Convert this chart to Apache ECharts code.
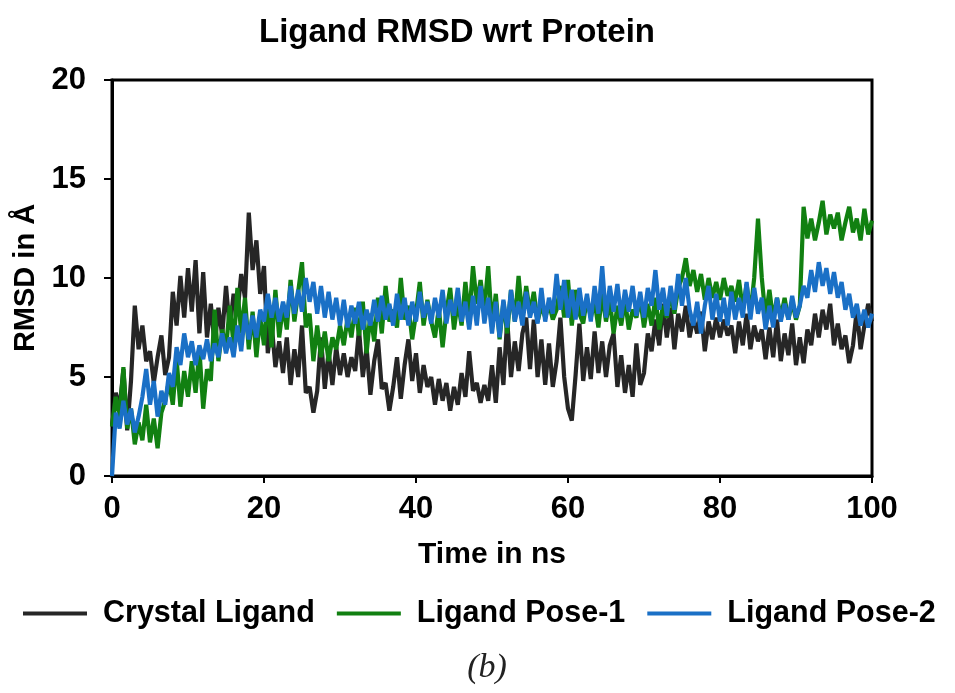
<!DOCTYPE html>
<html>
<head>
<meta charset="utf-8">
<script src="https://cdn.jsdelivr.net/npm/echarts@6/dist/echarts.min.js"></script>
<style>
  html, body { margin: 0; padding: 0; background: #fff; }
  #chart { width: 955px; height: 693px; }
</style>
</head>
<body>
<div id="chart"></div>
<script>
// sampled every 0.5 ns, 0 .. 100
const timeStep = 0.5;

const crystalLigand = [
  2.5, 4.2, 3.4, 5.4, 2.3, 4.8, 8.6, 6.4, 7.6, 5.8,
  6.3, 4.7, 6.0, 7.1, 5.1, 6.0, 9.3, 7.6, 10.1, 8.0,
  10.5, 8.3, 10.9, 7.2, 10.3, 7.0, 8.7, 6.6, 8.5, 7.1,
  9.6, 7.4, 9.2, 8.2, 10.2, 9.0, 13.3, 10.4, 11.9, 9.2,
  10.6, 6.2, 7.7, 5.5, 6.8, 5.2, 7.0, 4.6, 6.4, 5.0,
  7.6, 4.2, 4.5, 3.2, 4.3, 7.0, 4.4, 6.3, 4.6, 6.5,
  5.1, 6.2, 5.0, 6.0, 5.3, 7.4, 5.0, 6.5, 4.1, 5.8,
  6.9, 4.4, 4.7, 3.3, 4.5, 6.0, 3.9, 5.6, 6.9, 4.8,
  6.2, 4.2, 5.6, 4.5, 5.0, 3.6, 4.9, 3.8, 4.7, 3.3,
  4.5, 3.6, 5.2, 4.0, 6.3, 4.3, 4.7, 3.7, 4.6, 3.8,
  5.6, 3.7, 6.5, 4.6, 7.9, 5.0, 6.8, 5.3, 7.2, 8.0,
  5.4, 7.9, 5.0, 6.9, 4.6, 6.7, 4.5, 5.8, 8.0, 5.0,
  3.4, 2.8, 5.1, 7.7, 4.8, 6.5, 4.9, 7.3, 5.2, 6.8,
  5.0, 6.6, 7.2, 4.5, 6.1, 4.2, 5.6, 4.0, 6.7, 4.6,
  5.2, 7.2, 6.3, 7.9, 6.6, 8.7, 7.0, 8.5, 6.4, 8.2,
  7.3, 8.6, 7.0, 8.0, 7.2, 8.3, 6.3, 7.8, 6.9, 8.0,
  7.0, 7.9, 7.1, 7.6, 6.2, 7.8, 6.6, 8.2, 6.4, 7.6,
  6.8, 7.4, 5.9, 7.5, 6.0, 7.9, 5.8, 7.2, 6.1, 7.7,
  5.6, 7.0, 5.7, 7.4, 6.6, 8.2, 7.0, 8.4, 7.4, 8.7,
  6.6, 7.7, 6.4, 7.1, 5.7, 6.6, 8.4, 6.4, 7.6, 8.7,
  7.8
];

const ligandPose1 = [
  2.5, 4.0, 3.0, 5.5, 2.4, 3.4, 1.6, 2.7, 1.8, 3.6,
  1.7, 2.9, 1.4, 3.2, 3.8, 4.8, 3.6, 5.9, 3.5, 5.3,
  4.0, 5.8, 4.2, 6.4, 3.4, 5.4, 4.8, 8.4, 5.8, 7.4,
  6.4, 8.6, 6.6, 9.5, 7.2, 9.0, 6.4, 8.3, 6.0, 8.1,
  6.6, 9.0, 6.5, 9.4, 7.0, 8.6, 7.4, 9.9, 7.8, 9.3,
  10.8, 7.5, 8.2, 5.8, 7.6, 6.0, 7.3, 5.8, 7.0, 6.4,
  7.6, 6.6, 8.0, 7.0, 8.5, 7.1, 8.8, 6.2, 8.2, 6.8,
  9.0, 7.2, 9.6, 7.8, 8.4, 7.5, 10.0, 7.9, 8.6, 6.9,
  8.2, 9.8, 7.6, 8.9, 7.8, 7.0, 8.5, 6.5, 8.3, 9.5,
  7.4, 8.8, 7.6, 9.8, 8.0, 10.6, 8.7, 9.9, 8.4, 10.6,
  7.6, 9.2, 6.9, 8.8, 7.2, 9.4, 7.8, 10.1, 8.0, 9.6,
  8.2, 9.3, 7.8, 8.6, 8.0, 8.7, 7.9, 8.4, 9.6, 8.0,
  9.9, 7.6, 9.4, 8.2, 7.7, 9.0, 8.0, 8.8, 7.5, 9.2,
  7.8, 8.9, 7.2, 8.6, 7.6, 8.9, 7.4, 8.4, 8.0, 9.0,
  7.5, 8.7, 7.6, 9.0, 7.4, 8.6, 8.0, 9.2, 8.2, 9.5,
  10.0, 11.0, 9.6, 10.4, 9.3, 10.2, 8.9, 10.0, 9.0, 9.8,
  8.9, 10.0, 9.1, 9.6, 8.8, 9.9, 8.4, 9.7, 8.2, 10.0,
  13.0, 10.0, 8.0, 9.4, 7.9, 9.0, 8.0, 9.0, 7.9, 8.8,
  7.9, 8.6, 13.6, 12.0, 13.0, 11.9, 12.8, 13.9, 12.2, 13.2,
  12.5, 13.3, 11.9, 12.8, 13.6, 12.3, 13.0, 11.9, 13.5, 12.2,
  12.9
];

const ligandPose2 = [
  0, 3.2, 2.4, 3.8, 2.6, 3.4, 2.2, 3.0, 4.0, 5.4,
  3.6, 4.8, 3.0, 4.3, 3.6, 5.2, 4.5, 6.5, 5.6, 7.2,
  6.0, 6.8, 5.6, 6.6, 5.9, 6.9, 5.8, 6.7, 6.0, 7.2,
  6.2, 7.0, 6.0, 7.6, 6.3, 8.2, 6.9, 8.1, 7.0, 8.4,
  7.8, 9.2, 8.0, 9.0, 7.8, 8.8, 8.0, 9.6, 8.2, 9.4,
  8.3, 10.0, 8.8, 9.8, 8.2, 9.6, 8.0, 9.3, 7.9, 9.0,
  7.6, 8.9, 7.5, 8.6, 7.7, 8.8, 7.4, 8.4, 7.6, 8.9,
  7.8, 9.1, 7.9, 8.7, 7.6, 9.2, 7.9, 9.0, 7.6, 8.8,
  7.8, 9.3, 8.0, 8.8, 7.7, 9.0, 8.0, 9.4, 7.7, 8.9,
  8.1, 9.5, 7.8, 8.8, 7.4, 9.1, 7.6, 9.6, 7.7, 9.0,
  7.2, 8.8, 7.0, 8.9, 7.5, 9.4, 7.8, 8.8, 7.6, 9.3,
  8.0, 8.8, 7.7, 9.5, 7.8, 9.0, 8.2, 10.2, 8.4, 9.9,
  8.0, 9.4, 7.9, 9.5, 8.1, 9.2, 7.8, 9.6, 8.2, 10.6,
  8.0, 9.6, 8.3, 9.7, 8.0, 9.4, 8.3, 9.6, 8.1, 9.3,
  8.0, 9.5, 8.6, 10.4, 8.4, 9.5, 8.1, 9.6, 8.4, 10.2,
  8.6, 10.0, 8.4, 7.6, 8.8, 7.2, 8.6, 9.6, 7.9, 9.2,
  7.8, 9.0, 7.6, 9.3, 7.9, 9.0, 8.0, 9.8, 7.9, 9.5,
  8.2, 9.0, 7.4, 8.6, 7.5, 9.0, 7.8, 8.7, 7.9, 9.1,
  8.0, 8.6, 9.6, 9.0, 10.4, 9.3, 10.8, 9.6, 10.5, 9.2,
  10.3, 9.0, 9.8, 8.4, 9.2, 8.0, 8.7, 7.6, 8.4, 7.5,
  8.2
];

const seriesNames = ['Crystal Ligand', 'Ligand Pose-1', 'Ligand Pose-2'];
const seriesColors = ['#262626', '#118011', '#1a70c6'];

function pairs(values) {
  return values.map((v, i) => [i * timeStep, v]);
}

const font = 'Liberation Sans, Arial, sans-serif';
let myChart = echarts.init(document.getElementById('chart'));

let option = {
  animation: false,
  title: [
    {
      text: 'Ligand RMSD wrt Protein',
      left: 452,
      top: 11,
      textAlign: 'center',
      textStyle: { fontFamily: font, fontWeight: 'bold', fontSize: 33, color: '#000' }
    },
    {
      text: '(b)',
      left: 482,
      top: 646,
      textAlign: 'center',
      textStyle: { fontFamily: 'Liberation Serif, Times New Roman, serif', fontStyle: 'italic', fontWeight: 'normal', fontSize: 34, color: '#222' }
    }
  ],
  grid: {
    left: 112, right: 83, top: 80, bottom: 217,
    show: true, borderColor: '#000', borderWidth: 3
  },
  legend: {
    left: 18,
    top: 593,
    width: 937,
    itemWidth: 64,
    itemHeight: 4,
    itemGap: 22,
    icon: 'rect',
    data: seriesNames,
    textStyle: { fontFamily: font, fontWeight: 'bold', fontSize: 30.5, color: '#000', padding: [0, 0, 0, 11] }
  },
  xAxis: {
    type: 'value',
    min: 0, max: 100, interval: 20,
    name: 'Time in ns',
    nameLocation: 'middle',
    nameGap: 64,
    nameTextStyle: { fontFamily: font, fontWeight: 'bold', fontSize: 30, color: '#000' },
    axisLine: { lineStyle: { color: '#000', width: 3 } },
    axisTick: { show: true, length: 7, lineStyle: { color: '#000', width: 2 } },
    axisLabel: { margin: 18, fontFamily: font, fontWeight: 'bold', fontSize: 31, color: '#000' },
    splitLine: { show: false }
  },
  yAxis: {
    type: 'value',
    min: 0, max: 20, interval: 5,
    name: 'RMSD in Å',
    nameLocation: 'middle',
    nameGap: 62,
    nameTextStyle: { fontFamily: font, fontWeight: 'bold', fontSize: 29, color: '#000' },
    axisLine: { show: true, lineStyle: { color: '#000', width: 3 } },
    axisTick: { show: true, length: 8, lineStyle: { color: '#000', width: 2 } },
    axisLabel: { margin: 26, fontFamily: font, fontWeight: 'bold', fontSize: 31, color: '#000' },
    splitLine: { show: false }
  },
  series: seriesNames.map((name, k) => ({
    name: name,
    type: 'line',
    data: pairs([crystalLigand, ligandPose1, ligandPose2][k]),
    showSymbol: false,
    symbol: 'none',
    lineStyle: { color: seriesColors[k], width: 4.2 },
    itemStyle: { color: seriesColors[k] },
    z: 2 + k
  }))
};

myChart.setOption(option);
</script>
</body>
</html>
